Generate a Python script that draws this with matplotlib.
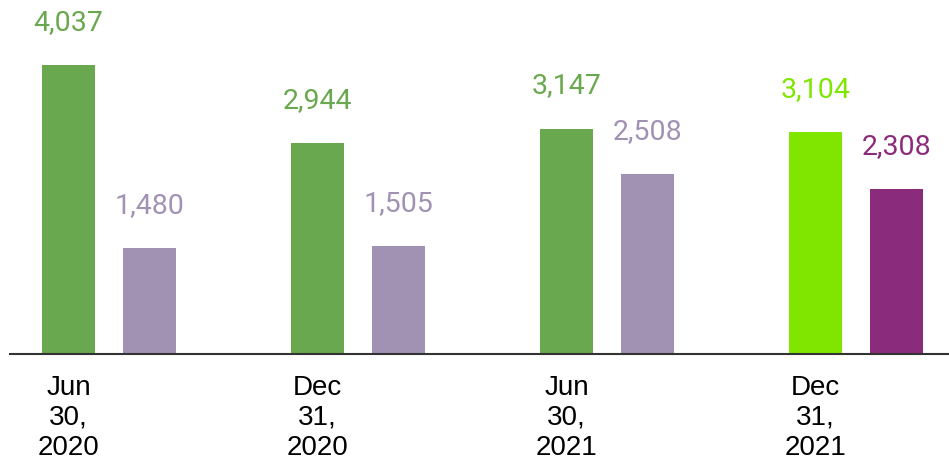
import numpy as np
import matplotlib.pyplot as plt

# data
periods = ['Jun\n30,\n2020', 'Dec\n31,\n2020', 'Jun\n30,\n2021', 'Dec\n31,\n2021']
series_a = [4037, 2944, 3147, 3104]
series_b = [1480, 1505, 2508, 2308]
colors_a = ['#6aa84f', '#6aa84f', '#6aa84f', '#80e600']
colors_b = ['#a192b4', '#a192b4', '#a192b4', '#8b2b7b']

fig = plt.figure(figsize=(9.49, 4.59), dpi=100)
ax = fig.add_axes([10 / 949, 105 / 459, 939 / 949, 354 / 459])

x = np.arange(len(periods))
width = 0.213
offset = 0.325

bars_a = ax.bar(x, series_a, width, color=colors_a)
bars_b = ax.bar(x + offset, series_b, width, color=colors_b)

for bars, vals, cols in [(bars_a, series_a, colors_a), (bars_b, series_b, colors_b)]:
    for b, v, c in zip(bars, vals, cols):
        ax.annotate(f'{v:,}', (b.get_x() + b.get_width() / 2, v),
                    xytext=(0, 21), textcoords='offset points',
                    ha='center', va='bottom', color=c,
                    fontsize=20.5, family='Roboto')

ax.set_xlim(-0.235, 3.536)
ax.set_ylim(0, 4944)
ax.set_xticks(x)
ax.set_xticklabels(periods, fontsize=20, family='Liberation Sans',
                   linespacing=1.2)
ax.tick_params(axis='x', length=0, pad=15)
ax.set_yticks([])
for s in ['top', 'right', 'left']:
    ax.spines[s].set_visible(False)
ax.spines['bottom'].set_color('#333333')
ax.spines['bottom'].set_linewidth(1.5)

fig.savefig('out.png', dpi=100)
